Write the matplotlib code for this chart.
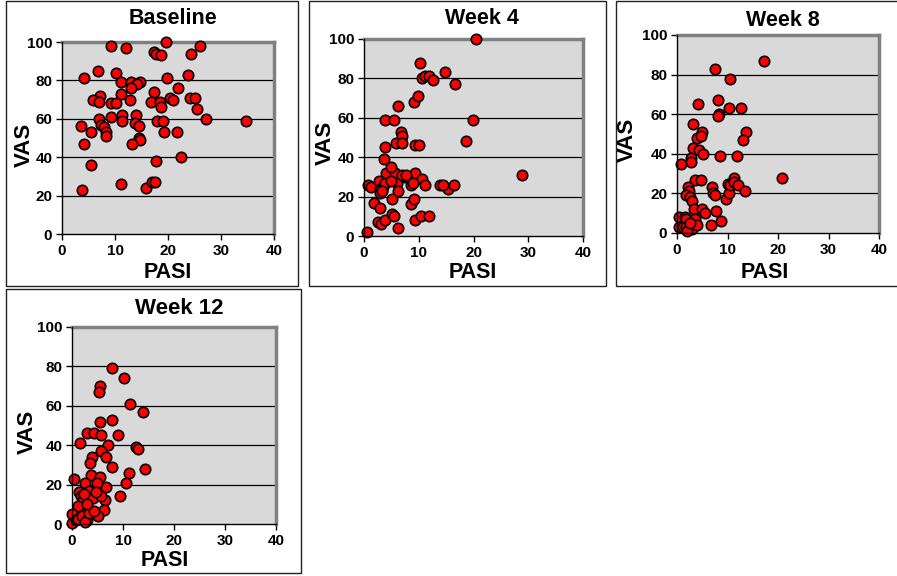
import matplotlib.pyplot as plt
from matplotlib.patches import Rectangle

# Baseline
base_pasi = [9.3, 12.0, 19.7, 26.1, 17.3, 17.8, 18.7, 24.4, 6.8, 10.1, 4.2, 19.8, 23.8,
             11.1, 13.1, 14.8, 14.2, 13.1, 21.8, 17.4, 11.1, 7.1, 5.8, 6.9, 9.3, 10.1,
             12.8, 16.7, 18.4, 18.6, 20.4, 20.9, 24.2, 25.0, 25.5, 27.2, 34.8, 3.6, 5.5,
             4.2, 6.9, 7.4, 7.9, 8.3, 8.3, 9.3, 11.3, 11.3, 14.0, 13.8, 14.6, 14.6, 14.8,
             13.3, 18.0, 19.1, 19.3, 21.7, 22.4, 17.8, 5.5, 11.1, 3.8, 15.8, 16.9, 17.6]
base_vas = [98, 97, 100, 98, 95, 94, 93, 94, 85, 84, 81, 81, 83,
            79, 79, 79, 78, 76, 76, 74, 73, 72, 70, 69, 68, 68,
            70, 69, 69, 66, 71, 70, 71, 71, 65, 60, 59, 56, 53,
            47, 60, 57, 55.5, 53, 51, 61, 62, 59, 62, 58, 56, 50, 49,
            47, 59, 59, 53, 53, 40, 38, 36, 26, 23, 24, 27, 27]

# Week 4
wk4_pasi = [0.6, 0.7, 1.2, 1.9, 2.9, 2.5, 3.1, 3.8, 5.1, 5.4, 6.2, 2.7, 2.9, 3.5, 3.8,
            2.9, 5.1, 4.1, 5.6, 4.9, 3.6, 3.8, 3.9, 5.4, 6.2, 6.7, 6.9, 5.8, 6.9, 9.3,
            10.0, 6.0, 6.2, 4.9, 7.5, 8.1, 8.5, 9.4, 10.6, 11.1, 8.5, 9.1, 9.4, 10.5,
            11.9, 9.1, 9.9, 10.3, 10.6, 11.1, 11.9, 12.6, 14.8, 16.6, 13.9, 15.4, 16.4,
            18.6, 19.9, 20.5, 28.8, 7.0, 7.7, 3.3, 8.9, 14.5]
wk4_vas = [2, 26, 25, 17, 14, 7, 6, 8, 11, 10, 4, 28, 24, 25, 27,
           22, 19, 32, 32, 35, 39, 45, 59, 59, 66, 53, 51, 47, 47, 46,
           46, 27, 23, 28, 30, 30, 26, 32, 29, 26, 16, 19, 8, 10,
           10, 68, 71, 88, 80, 81, 81, 79, 83, 77, 26, 24, 26,
           48, 59, 100, 31, 31, 31, 23, 27, 26]

# Week 8
wk8_pasi = [7.5, 10.5, 17.2, 4.1, 8.2, 8.3, 8.1, 10.2, 12.7, 3.1, 4.0, 5.0, 4.7, 13.7,
            13.1, 3.1, 4.3, 5.1, 2.7, 2.7, 0.7, 8.5, 11.9, 3.5, 4.8, 2.1, 2.3, 1.8, 2.5,
            3.0, 3.3, 7.0, 7.2, 7.5, 9.7, 10.0, 10.3, 10.5, 11.3, 11.3, 12.0, 13.5, 5.0,
            5.5, 7.7, 8.7, 6.8, 0.3, 0.3, 1.1, 1.5, 1.8, 1.8, 2.3, 3.0, 3.5, 4.0, 20.7,
            2.0, 2.6]
wk8_vas = [83, 78, 87, 65, 67, 60, 59, 63, 63, 55, 48, 51, 49, 51,
           47, 43, 42, 40, 38, 36, 35, 39, 39, 27, 27, 23, 21, 19, 18,
           16, 12, 23, 20, 19, 17, 25, 20, 24, 28, 26, 24, 21, 12,
           10, 11, 6, 4, 8, 3, 3, 8, 7, 3, 2, 2, 7, 4, 28,
           1, 5]

# Week 12
wk12_pasi = [7.8, 10.2, 5.5, 5.3, 11.4, 13.9, 5.5, 7.9, 2.9, 4.4, 5.7, 9.1, 1.6, 7.0,
             5.7, 6.7, 3.9, 3.6, 12.5, 13.0, 7.9, 14.3, 11.2, 10.5, 9.5, 3.8, 5.5, 6.7,
             4.9, 0.3, 2.6, 3.3, 1.4, 1.8, 2.2, 4.1, 6.4, 6.2, 5.1, 2.4, 2.1, 1.1, 0.0,
             0.0, 0.8, 1.1, 2.0, 2.9, 2.6, 3.4, 4.4, 5.7, 4.7, 3.0, 2.3]
wk12_vas = [79, 74, 70, 67, 61, 57, 52, 53, 46, 46, 45, 45, 41, 40,
            37, 34, 34, 31, 39, 38, 29, 28, 26, 21, 14, 25, 24, 19,
            21, 23, 21, 17, 16, 14, 12, 13, 12, 7, 4, 9, 8, 9, 5,
            0.5, 2, 2.5, 4, 2, 1, 5.5, 6.4, 14, 16, 10, 15]

titles = ['Baseline', 'Week 4', 'Week 8', 'Week 12']
xticks = [0, 10, 20, 30, 40]
yticks = [0, 20, 40, 60, 80, 100]

W, H = 897, 576
FONT = 'Liberation Sans'

# pixel layout: frame box, plot box, title / label centres
panels = [
    dict(frame=(6, 1, 298, 286), plot=(62, 42, 274, 234), title=(173, 18), vas=(24, 145), pasi=(168, 272), tsize=15.5),
    dict(frame=(309, 1, 606, 286), plot=(364, 39, 583, 236), title=(482, 18), vas=(325, 143), pasi=(473, 273), tsize=15.5),
    dict(frame=(616, 1, 905, 286), plot=(677, 35, 879, 233), title=(783, 21), vas=(627, 140), pasi=(765, 272), tsize=15.5),
    dict(frame=(6, 289, 301, 573), plot=(72, 327, 276, 524), title=(179, 308), vas=(27, 432), pasi=(165, 560), tsize=16),
]
series = [(base_pasi, base_vas), (wk4_pasi, wk4_vas), (wk8_pasi, wk8_vas), (wk12_pasi, wk12_vas)]

fig = plt.figure(figsize=(W / 100, H / 100), dpi=100)

for p, (xs, ys), title in zip(panels, series, titles):
    fl, ft, fr, fb = p['frame']
    fig.add_artist(Rectangle((fl / W, 1 - fb / H), (fr - fl) / W, (fb - ft) / H,
                             transform=fig.transFigure, fill=False, ec='#222222', lw=1.0))

    l, t, r, b = p['plot']
    ax = fig.add_axes([l / W, 1 - b / H, (r - l) / W, (b - t) / H])
    ax.set_facecolor('#D9D9D9')
    ax.set_xlim(0, 40)
    ax.set_ylim(0, 100)
    ax.set_xticks(xticks)
    ax.set_yticks(yticks)
    for yv in yticks[1:-1]:
        ax.axhline(yv, color='black', lw=0.9, zorder=1)
    ax.scatter(xs, ys, s=56, c='#FF0000', edgecolors='black', linewidths=1.2,
               zorder=3, clip_on=False)

    for side in ['top', 'right']:
        ax.spines[side].set_color('#808080')
        ax.spines[side].set_linewidth(2.5)
    for side in ['left', 'bottom']:
        ax.spines[side].set_color('black')
        ax.spines[side].set_linewidth(1)
        ax.spines[side].set_zorder(4)
    ax.tick_params(direction='out', length=4, width=1, pad=3, labelsize=11)
    for lab in ax.get_xticklabels() + ax.get_yticklabels():
        lab.set_fontfamily(FONT)
        lab.set_fontweight('bold')

    tx, ty = p['title']
    fig.text(tx / W, 1 - ty / H, title, ha='center', va='center', fontsize=p['tsize'],
             fontweight='bold', family=FONT)
    vx, vy = p['vas']
    fig.text(vx / W, 1 - vy / H, 'VAS', ha='center', va='center', rotation=90,
             fontsize=16, fontweight='bold', family=FONT)
    px, py = p['pasi']
    fig.text(px / W, 1 - py / H, 'PASI', ha='center', va='center',
             fontsize=15.5, fontweight='bold', family=FONT)

plt.savefig('out.png', dpi=100)
